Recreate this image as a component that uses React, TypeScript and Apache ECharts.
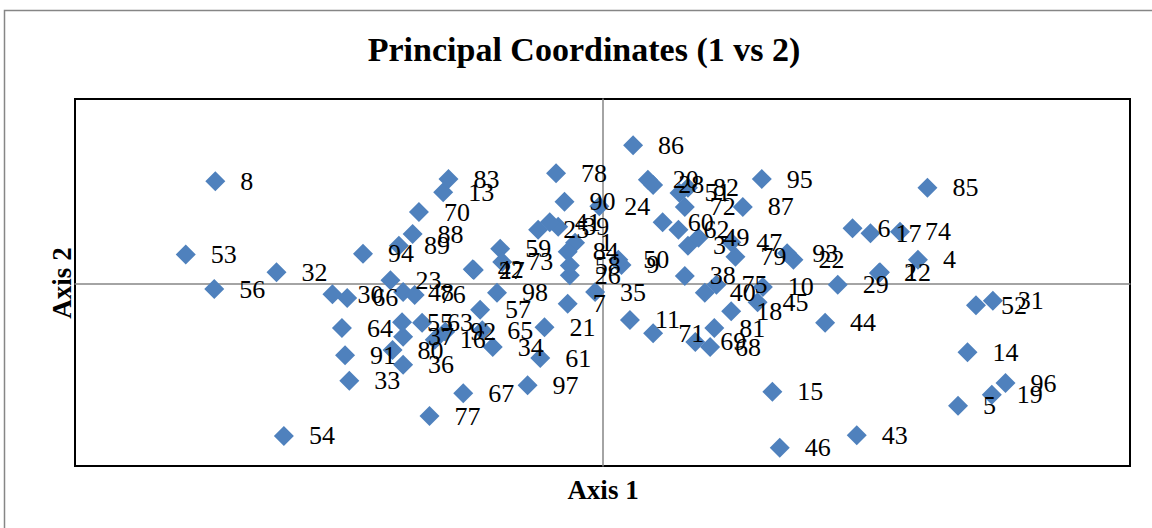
import React, { useEffect, useRef } from "react";
import * as echarts from "echarts";

// Point identifiers (1..98) and their principal coordinates (axis 1, axis 2)
const ids: number[] = [
  1, 2, 3, 4, 5, 6, 7, 8, 9, 10, 11, 12, 13, 14, 15, 16, 17, 18, 19, 20,
  21, 22, 23, 24, 25, 26, 27, 28, 29, 30, 31, 32, 33, 34, 35, 36, 37, 38, 39, 40,
  41, 42, 43, 44, 45, 46, 47, 48, 49, 50, 51, 52, 53, 54, 55, 56, 57, 58, 59, 60,
  61, 62, 63, 64, 65, 66, 67, 68, 69, 70, 71, 72, 73, 74, 75, 76, 77, 78, 79, 80,
  81, 82, 83, 84, 85, 86, 87, 88, 89, 90, 91, 92, 93, 94, 95, 96, 97, 98,
];

const axis1: number[] = [
  -0.026, 0.262, 0.081, 0.299, 0.337, 0.237, -0.033, -0.367, 0.018, 0.152,
  0.026, 0.263, -0.151, 0.346, 0.161, -0.159, 0.254, 0.122, 0.369, 0.043,
  -0.055, 0.181, -0.201, -0.003, -0.061, -0.031, -0.122, 0.048, 0.223, -0.256,
  0.370, -0.309, -0.240, -0.104, -0.007, -0.189, -0.189, 0.078, -0.042, 0.097,
  -0.050, -0.123, 0.241, 0.211, 0.147, 0.168, 0.122, -0.189, 0.091, 0.015,
  0.073, 0.354, -0.395, -0.302, -0.190, -0.368, -0.116, -0.031, -0.097, 0.057,
  -0.059, 0.072, -0.171, -0.247, -0.114, -0.242, -0.132, 0.102, 0.088, -0.174,
  0.048, 0.078, -0.095, 0.282, 0.108, -0.178, -0.164, -0.044, 0.126, -0.199,
  0.106, 0.081, -0.146, -0.033, 0.308, 0.029, 0.133, -0.180, -0.193, -0.036,
  -0.244, -0.149, 0.175, -0.227, 0.151, 0.382, -0.071, -0.100,
];

const axis2: number[] = [
  0.056, 0.015, 0.052, 0.033, -0.166, 0.076, -0.027, 0.140, 0.026, -0.004,
  -0.049, 0.016, 0.125, -0.093, -0.147, -0.076, 0.069, -0.037, -0.151, 0.142,
  -0.059, 0.033, 0.005, 0.106, 0.074, 0.012, 0.019, 0.135, -0.001, -0.014,
  -0.023, 0.016, -0.132, -0.086, -0.011, -0.110, -0.072, 0.011, 0.078, -0.012,
  0.084, 0.020, -0.206, -0.053, -0.025, -0.223, 0.057, -0.011, 0.063, 0.033,
  0.124, -0.029, 0.040, -0.207, -0.052, -0.007, -0.035, 0.025, 0.048, 0.084,
  -0.101, 0.074, -0.053, -0.060, -0.063, -0.019, -0.149, -0.086, -0.079, 0.098,
  -0.067, 0.105, 0.030, 0.071, -0.001, -0.015, -0.180, 0.151, 0.037, -0.090,
  -0.060, 0.131, 0.143, 0.044, 0.131, 0.189, 0.105, 0.068, 0.052, 0.112,
  -0.097, -0.065, 0.042, 0.041, 0.143, -0.135, -0.138, -0.012,
];

const chartTitle = "Principal Coordinates (1 vs 2)";
const xName = "Axis 1";
const yName = "Axis 2";

export default function App() {
  const ref = useRef<HTMLDivElement>(null);

  useEffect(() => {
    if (!ref.current) return;
    const chart = echarts.init(ref.current, undefined, { renderer: "svg" });
    const data = ids.map((id, i) => ({ name: String(id), value: [axis1[i], axis2[i]] }));
    const serif = '"Liberation Serif", "Times New Roman", serif';

    chart.setOption({
      animation: false,
      backgroundColor: "#ffffff",
      title: {
        text: chartTitle,
        left: 584,
        top: 32,
        padding: 0,
        textAlign: "center",
        textStyle: { fontFamily: serif, fontWeight: "bold", fontSize: 34, color: "#000" },
      },
      grid: {
        left: 75,
        top: 99,
        width: 1055,
        height: 367,
        show: true,
        borderColor: "#000",
        borderWidth: 2,
        backgroundColor: "transparent",
      },
      xAxis: {
        type: "value",
        min: -0.5,
        max: 0.5,
        axisLine: { show: true, onZero: true, lineStyle: { color: "#868686", width: 1.5 } },
        axisTick: { show: false },
        axisLabel: { show: false },
        splitLine: { show: false },
      },
      yAxis: {
        type: "value",
        min: -0.248,
        max: 0.252,
        axisLine: { show: true, onZero: true, lineStyle: { color: "#868686", width: 1.5 } },
        axisTick: { show: false },
        axisLabel: { show: false },
        splitLine: { show: false },
      },
      graphic: [
        {
          type: "rect",
          silent: true,
          z: -10,
          shape: { x: 4.5, y: 10.5, width: 1300, height: 700 },
          style: { fill: "none", stroke: "#868686", lineWidth: 1.5 },
        },
        {
          type: "text",
          x: 603,
          y: 490,
          style: {
            text: xName,
            font: 'bold 27px "Liberation Serif"',
            textAlign: "center",
            textVerticalAlign: "middle",
            fill: "#000",
          },
        },
        {
          type: "text",
          x: 62,
          y: 283,
          rotation: Math.PI / 2,
          style: {
            text: yName,
            font: 'bold 27px "Liberation Serif"',
            textAlign: "center",
            textVerticalAlign: "middle",
            fill: "#000",
          },
        },
      ],
      series: [
        {
          type: "scatter",
          symbol: "diamond",
          symbolSize: 20,
          itemStyle: { color: "#4f81bd", opacity: 1 },
          label: {
            show: true,
            position: "right",
            distance: 15,
            formatter: "{b}",
            fontFamily: serif,
            fontSize: 26,
            color: "#000",
          },
          emphasis: { disabled: true },
          data,
        },
      ],
    });

    return () => chart.dispose();
  }, []);

  return (
    <div
      ref={ref}
      style={{ position: "absolute", left: 0, top: 0, width: 1152, height: 528 }}
    />
  );
}
